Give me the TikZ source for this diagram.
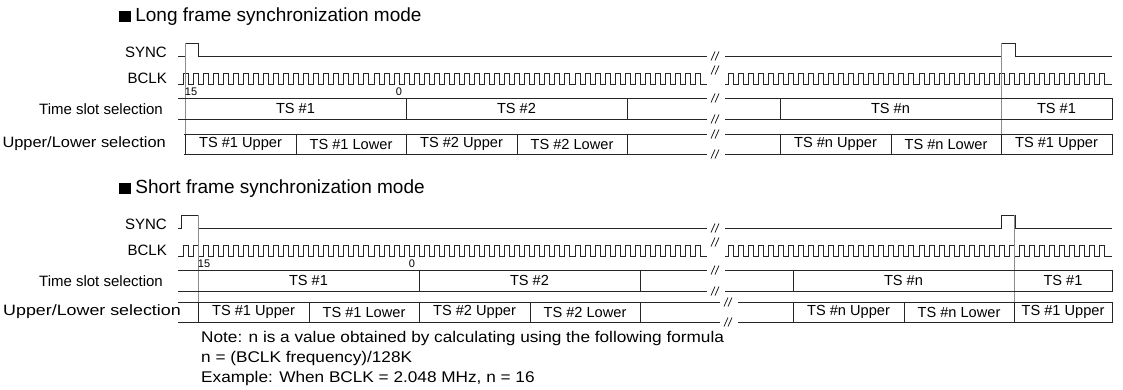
\documentclass[tikz,border=0pt]{standalone}
\usepackage{fontspec}
\usepackage{graphicx}
\setmainfont{Liberation Sans}
\newcommand{\brkmark}[2]{%
  \draw[brk] ({#1-5},{#2+4.5}) -- ({#1-1},{#2-4.5}) ({#1-1},{#2+4.5}) -- ({#1+3},{#2-4.5});}
\newcommand{\wide}[2]{\scalebox{#1}[1]{#2}}
\tikzset{
  sig/.style={line width=0.9pt, black!85},
  marker/.style={line width=0.8pt, black!45},
  brk/.style={line width=0.8pt, black!85},
  lbl/.style={anchor=east, inner sep=0pt, font=\fontsize{15}{17}\selectfont},
  cell/.style={inner sep=0pt, font=\fontsize{14.6}{16}\selectfont},
  num/.style={inner sep=0pt, font=\fontsize{11}{12}\selectfont},
  ttl/.style={anchor=west, inner sep=0pt, font=\fontsize{19}{21}\selectfont},
  note/.style={anchor=west, inner sep=0pt, font=\fontsize{15.5}{17}\selectfont}
}

\begin{document}
\begin{tikzpicture}[x=1pt,y=-1pt]
  \useasboundingbox (0,0) rectangle (1123,389);
  % one pass per mode: slot start, y offset, upper/lower row, ...
  \foreach \s/\yo/\ul/\ulx/\pa/\lx/\lw/\gb/\mode in
      {185/0/134/184/185/166/1.094/716/Long, 198/172/302/178/181/181/1.19/729/Short} {
    \node[ttl] (title\mode) at (119,{\yo+17})
      {\rule{0.6em}{0.6em}\hspace{0.25em}\mode\ frame synchronization mode};
    \node[lbl] (sync\mode) at (167,{\yo+52.5}) {SYNC};
    \node[lbl] (bclk\mode) at (167,{\yo+78}) {BCLK};
    \node[lbl] (tsel\mode) at (163,{\yo+109}) {Time slot selection};
    \node[lbl] (usel\mode) at (\lx,{\ul+10}) {\wide{\lw}{Upper/Lower selection}};
    % SYNC
    \draw[sig] (178,{\yo+56}) -- (\pa,{\yo+56}) -- (\pa,{\yo+43}) -- (198,{\yo+43})
      -- (198,{\yo+56}) -- (707,{\yo+56})
      (725,{\yo+56}) -- (1001,{\yo+56}) -- (1001,{\yo+43}) -- (1015,{\yo+43})
      -- (1015,{\yo+56}) -- (1112,{\yo+56});
    % BCLK
    \draw[sig] (178,{\yo+84}) foreach \k in {0,...,51} {
        -- ({183+\k*10.05},{\yo+84}) -- ++(0,-11) -- ++(5,0) -- ++(0,11)
      } -- (707,{\yo+84})
      (725,{\yo+84}) foreach \k in {0,...,37} {
        -- ({728+\k*10.05},{\yo+84}) -- ++(0,-11) -- ++(5,0) -- ++(0,11)
      } -- (1112,{\yo+84});
    % frame edges
    \draw[marker] (\s,{\yo+43}) -- (\s,\ul);
    \draw[marker] ({\s+816},{\yo+43}) -- ({\s+816},\ul);
    \node[num] (msb\mode) at ({\s+6},{\yo+92}) {15};
    \node[num] (lsb\mode) at ({\s+214},{\yo+92}) {0};
    % time slot row
    \draw[sig] (178,{\yo+98}) -- (707,{\yo+98}) (725,{\yo+98}) -- (1112,{\yo+98})
      -- (1112,{\yo+119}) -- (725,{\yo+119}) (707,{\yo+119}) -- (178,{\yo+119});
    \foreach \d in {221,442,595}
      \draw[sig] ({\s+\d},{\yo+98}) -- ({\s+\d},{\yo+119});
    \node[cell] (tsa\mode) at ({\s+110.5},{\yo+108.5}) {TS \#1};
    \node[cell] (tsb\mode) at ({\s+331.5},{\yo+108.5}) {TS \#2};
    \node[cell] (tsn\mode) at ({\s+705.5},{\yo+108.5}) {TS \#n};
    \node[cell] (tsc\mode) at ({(\s+816+1112)/2},{\yo+108.5}) {TS \#1};
    % upper/lower row
    \draw[sig] (\ulx,\ul) -- ({\gb-9},\ul) ({\gb+9},\ul) -- (1112,\ul)
      -- (1112,{\ul+20}) -- ({\gb+9},{\ul+20}) ({\gb-9},{\ul+20}) -- (\ulx,{\ul+20});
    \foreach \d in {0,111,221,332,442,595,706,816}
      \draw[sig] ({\s+\d},\ul) -- ({\s+\d},{\ul+20});
    \foreach \c/\t [count=\i] in {55.5/TS \#1 Upper, 166/TS \#1 Lower,
        276.5/TS \#2 Upper, 387/TS \#2 Lower, 650.5/TS \#n Upper, 761/TS \#n Lower}
      \node[cell] (ul\mode\i) at ({\s+\c},{\ul+10}) {\t};
    \node[cell] (ul\mode7) at ({(\s+816+1112)/2},{\ul+10}) {TS \#1 Upper};
    % breaks
    \brkmark{716}{\yo+56}
    \brkmark{716}{\yo+70}
    \brkmark{716}{\yo+98}
    \brkmark{716}{\yo+119}
    \brkmark{\gb}{\ul}
    \brkmark{\gb}{\ul+20}
  }
  \node[note] (note1) at (201,338) {\wide{1.11}{Note: n is a value obtained by calculating using the following formula}};
  \node[note] (note2) at (201,358) {\wide{1.11}{n = (BCLK frequency)/128K}};
  \node[note] (note3) at (201,378) {\wide{1.11}{Example: When BCLK = 2.048 MHz, n = 16}};
\end{tikzpicture}
\end{document}
